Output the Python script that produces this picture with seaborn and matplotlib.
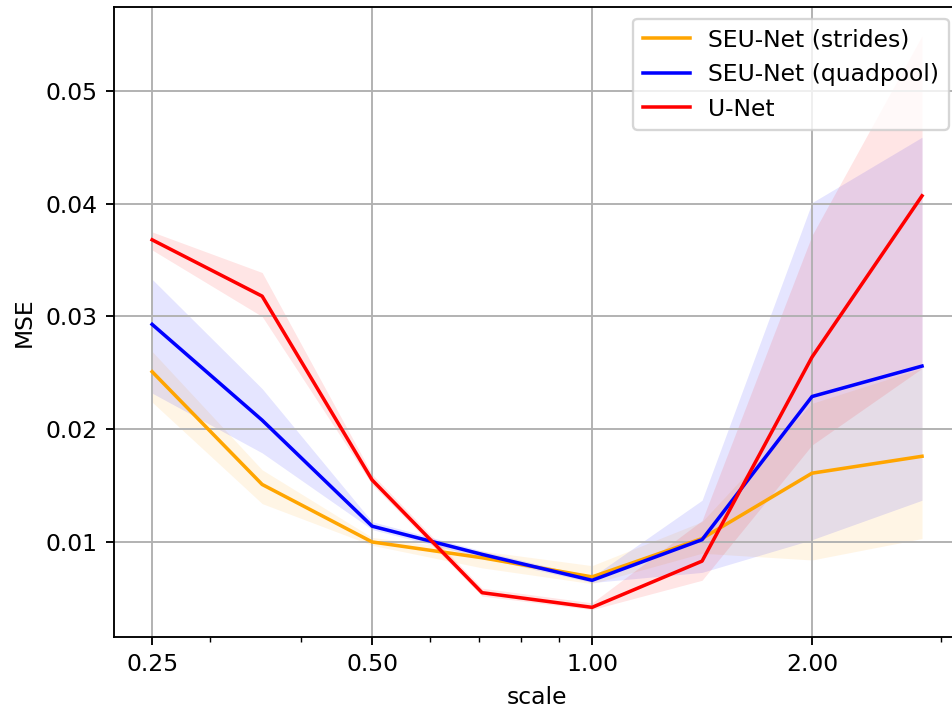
import numpy as np
import pandas as pd
import matplotlib
matplotlib.use("Agg")
import matplotlib.pyplot as plt
import matplotlib.ticker as mticker
import seaborn as sns

# ---- data ----
scales = [0.25, 0.3536, 0.5, 0.7071, 1.0, 1.4142, 2.0, 2.8284]

strides_mean = [0.0251, 0.0151, 0.0100, 0.0086, 0.0069, 0.0103, 0.0161, 0.0176]
strides_lo   = [0.0224, 0.0134, 0.0097, 0.0077, 0.0063, 0.0090, 0.0084, 0.0103]
strides_hi   = [0.0269, 0.0164, 0.0104, 0.0092, 0.0079, 0.0118, 0.0223, 0.0254]

quad_mean = [0.0293, 0.0208, 0.0114, 0.0089, 0.0066, 0.0102, 0.0229, 0.0256]
quad_lo   = [0.0232, 0.0179, 0.0111, 0.0086, 0.0064, 0.0073, 0.0102, 0.0137]
quad_hi   = [0.0333, 0.0236, 0.0118, 0.0092, 0.0069, 0.0137, 0.0401, 0.0459]

unet_mean = [0.0368, 0.0318, 0.0155, 0.0055, 0.0042, 0.0083, 0.0264, 0.0407]
unet_lo   = [0.0359, 0.0300, 0.0151, 0.0052, 0.0040, 0.0066, 0.0186, 0.0254]
unet_hi   = [0.0375, 0.0339, 0.0160, 0.0059, 0.0046, 0.0119, 0.0372, 0.0549]

labels = ["SEU-Net (strides)", "SEU-Net (quadpool)", "U-Net"]
colors = ["orange", "blue", "red"]
xticks = [0.25, 0.5, 1.0, 2.0]
yticks = [0.01, 0.02, 0.03, 0.04, 0.05]

series = [
    (strides_mean, strides_lo, strides_hi),
    (quad_mean, quad_lo, quad_hi),
    (unet_mean, unet_lo, unet_hi),
]

DPI = 169
fig = plt.figure(figsize=(952 / DPI, 709 / DPI), dpi=DPI)
ax = fig.add_axes([114 / 952, 1 - 637 / 709, (960.5 - 114) / 952, (637 - 7) / 709])

for (m, lo, hi), lab, col in zip(series, labels, colors):
    df = pd.DataFrame({
        "scale": scales * 3,
        "MSE": list(lo) + list(m) + list(hi),
    })
    sns.lineplot(data=df, x="scale", y="MSE", estimator="median",
                 errorbar=("pi", 100), color=col, label=lab, ax=ax,
                 linewidth=1.5, err_kws={"alpha": 0.1, "linewidth": 0})

ax.set_xscale("log")
ax.xaxis.set_major_locator(mticker.FixedLocator(xticks))
ax.xaxis.set_major_formatter(mticker.FormatStrFormatter("%.2f"))
ax.xaxis.set_minor_locator(mticker.LogLocator(base=10, subs=np.arange(2, 10)))
ax.xaxis.set_minor_formatter(mticker.NullFormatter())
ax.set_yticks(yticks)
ax.set_xlim(0.2217, 3.193)
ax.set_ylim(0.00157, 0.05745)
ax.grid(True, which="major", color="#b0b0b0", linewidth=0.8)
ax.set_xlabel("scale")
ax.set_ylabel("MSE")
ax.legend(loc="upper right")

fig.savefig("out.png", dpi=DPI)
